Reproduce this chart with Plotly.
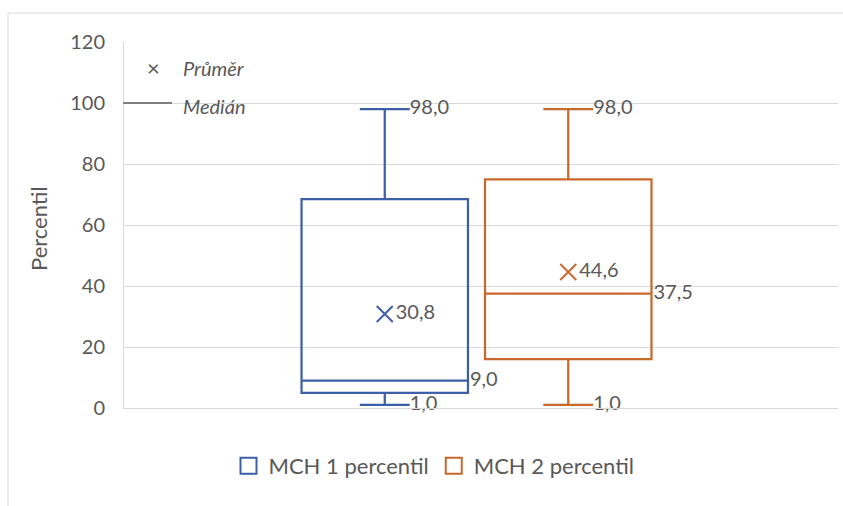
import plotly.graph_objects as go

# --- data -------------------------------------------------------------
series_names = ["MCH 1 percentil", "MCH 2 percentil"]
minimum = [1.0, 1.0]
q1 = [5.0, 16.0]
median = [9.0, 37.5]
q3 = [68.5, 75.0]
maximum = [98.0, 98.0]
mean = [30.8, 44.6]

y_ticks = [0, 20, 40, 60, 80, 100, 120]
category = [""]

# --- style ------------------------------------------------------------
colors = ["#3D5FA8", "#C8692B"]
text_color = "#595959"
grid_color = "#D9D9D9"
font_family = "Lato, Carlito, Calibri, sans-serif"
font_size = 20

W, H = 843, 506
margin = dict(l=124, r=5, t=42, b=98)
box_gap = 0.486
box_group_gap = 0.093
whisker_width = 0.3
x_shift = 0.0063  # category band sits slightly left of the plot centre

# pixel sizes derived from the layout, used to push data labels
plot_w = W - margin["l"] - margin["r"]
plot_h = H - margin["t"] - margin["b"]
slot_px = plot_w * (1 - box_gap) / len(series_names)
box_half_px = slot_px * (1 - box_group_gap) / 2
cap_half_px = box_half_px * whisker_width


def marker_for_offset(px):
    # plotly offsets 'right' text by size/1.6 + 1 from the point
    return max((px - 1) * 1.6, 1)


fig = go.Figure()

for i, name in enumerate(series_names):
    c = colors[i]
    grp = str(i)
    fig.add_trace(go.Box(
        x=category,
        q1=[q1[i]], median=[median[i]], q3=[q3[i]],
        lowerfence=[minimum[i]], upperfence=[maximum[i]], mean=[mean[i]],
        name=name, offsetgroup=grp, alignmentgroup="a",
        boxpoints=False, boxmean=False,
        whiskerwidth=whisker_width,
        line=dict(color=c, width=2.25),
        fillcolor="rgba(255,255,255,0)",
        hoverinfo="skip", showlegend=False, legendgroup=grp,
    ))

for i, name in enumerate(series_names):
    c = colors[i]
    grp = str(i)
    # legend entry: hollow square key
    fig.add_trace(go.Scatter(
        x=[None], y=[None], mode="markers", name=name,
        offsetgroup=grp, alignmentgroup="a", legendgroup=grp,
        marker=dict(symbol="square-open", size=16, color=c, line=dict(color=c, width=2)),
    ))
    common = dict(offsetgroup=grp, alignmentgroup="a", showlegend=False,
                  hoverinfo="skip", cliponaxis=False, legendgroup=grp,
                  texttemplate="%{y:.1f}", textposition="middle right",
                  textfont=dict(family=font_family, size=font_size, color=text_color))
    # mean marker
    fig.add_trace(go.Scatter(
        x=category, y=[mean[i]], mode="markers+text",
        marker=dict(symbol="x-thin", size=16, color=c, line=dict(color=c, width=2)),
        **common))
    # whisker end labels
    fig.add_trace(go.Scatter(
        x=category * 2, y=[maximum[i], minimum[i]], mode="markers+text",
        marker=dict(size=marker_for_offset(cap_half_px), opacity=0),
        **common))
    # median label
    fig.add_trace(go.Scatter(
        x=category, y=[median[i]], mode="markers+text",
        marker=dict(size=marker_for_offset(box_half_px + 2), opacity=0),
        **common))


def px_x(px):
    return (px - margin["l"]) / plot_w


def px_y(py):
    return (H - margin["b"] - py) / plot_h


annotations = [
    dict(text="Percentil", textangle=-90, xref="paper", yref="paper",
         x=px_x(38), y=px_y(229), xanchor="center", yanchor="middle", showarrow=False,
         font=dict(family=font_family, size=22, color=text_color)),
    dict(text="×", xref="paper", yref="paper", x=px_x(153), y=px_y(68),
         xanchor="center", yanchor="middle",
         showarrow=False, font=dict(family="DejaVu Sans ExtraLight, Lato, sans-serif",
                                    size=22, color=text_color)),
    dict(text="<i>Průměr</i>", xref="paper", yref="paper", x=px_x(181), y=px_y(68),
         xanchor="left", yanchor="middle", showarrow=False,
         font=dict(family=font_family, size=20, color=text_color)),
    dict(text="<i>Medián</i>", xref="paper", yref="paper", x=px_x(181), y=px_y(106),
         xanchor="left", yanchor="middle", showarrow=False,
         font=dict(family=font_family, size=20, color=text_color)),
]

shapes = [
    # chart area frame
    dict(type="rect", xref="paper", yref="paper",
         x0=px_x(8), x1=px_x(850), y0=px_y(520), y1=px_y(13),
         line=dict(color=grid_color, width=1), fillcolor="rgba(0,0,0,0)"),
    # median key line
    dict(type="line", xref="paper", yref="paper",
         x0=px_x(123), x1=px_x(172), y0=px_y(103), y1=px_y(103),
         line=dict(color="#7F7F7F", width=2)),
]

fig.update_layout(
    width=W, height=H, margin=margin,
    paper_bgcolor="white", plot_bgcolor="white",
    boxmode="group", boxgap=box_gap, boxgroupgap=box_group_gap,
    scattermode="group", scattergap=box_gap,
    separators=", ",
    font=dict(family=font_family, size=font_size, color=text_color),
    xaxis=dict(type="category", showticklabels=False, showgrid=False,
               range=[-0.5 + x_shift, 0.5 + x_shift],
               showline=True, linecolor=grid_color, linewidth=1, zeroline=False),
    yaxis=dict(range=[0, 120], tickvals=y_ticks, showgrid=True, gridcolor=grid_color,
               gridwidth=1, showline=True, linecolor=grid_color, linewidth=1,
               zeroline=False, ticks="", ticklabelstandoff=14,
               tickfont=dict(family=font_family, size=font_size, color=text_color)),
    legend=dict(orientation="h", x=px_x(434), xanchor="center", y=px_y(466), yanchor="middle",
                font=dict(family=font_family, size=22, color=text_color),
                bgcolor="rgba(0,0,0,0)"),
    annotations=annotations,
    shapes=shapes,
)

fig.write_html("out.html")
